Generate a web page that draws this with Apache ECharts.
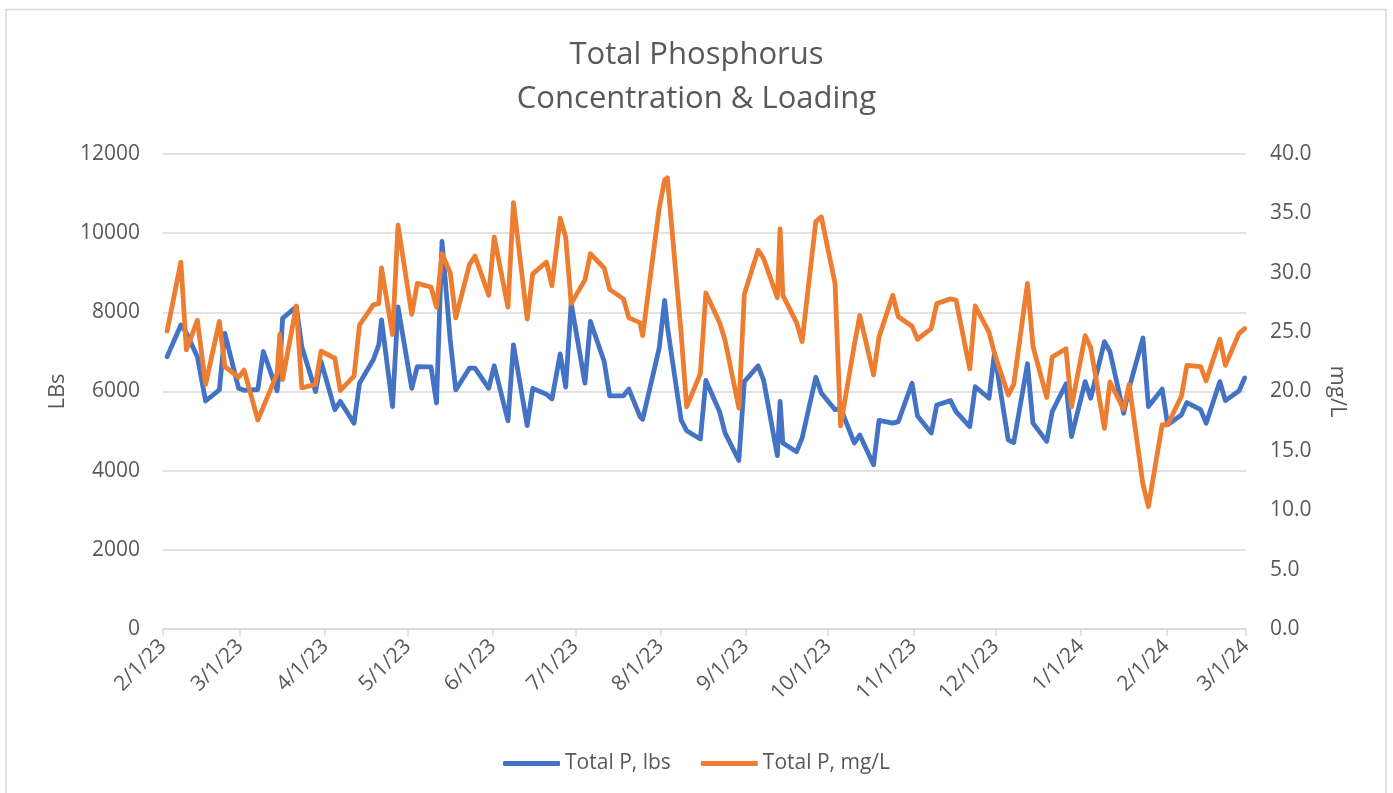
<!DOCTYPE html>
<html>
<head>
<meta charset="utf-8">
<title>Total Phosphorus Concentration &amp; Loading</title>
<script src="https://cdn.jsdelivr.net/npm/echarts@6/dist/echarts.min.js"></script>
<style>
  html, body { margin: 0; padding: 0; background: #fff; }
  #chart { width: 1393px; height: 793px; }
</style>
</head>
<body>
<div id="chart"></div>
<script>
// sample dates (Tue / Thu sampling)
const sampleDates = [
  '2023-02-02','2023-02-07','2023-02-09','2023-02-13','2023-02-16','2023-02-21','2023-02-23','2023-02-28',
  '2023-03-02','2023-03-07','2023-03-09','2023-03-14','2023-03-15','2023-03-16','2023-03-21','2023-03-23','2023-03-28','2023-03-30',
  '2023-04-04','2023-04-06','2023-04-11','2023-04-13','2023-04-18','2023-04-20','2023-04-21','2023-04-25','2023-04-27',
  '2023-05-02','2023-05-04','2023-05-09','2023-05-11','2023-05-13','2023-05-16','2023-05-18','2023-05-23','2023-05-25','2023-05-30',
  '2023-06-01','2023-06-06','2023-06-08','2023-06-13','2023-06-15','2023-06-20','2023-06-22','2023-06-25','2023-06-27','2023-06-29',
  '2023-07-04','2023-07-06','2023-07-11','2023-07-13','2023-07-18','2023-07-20','2023-07-24','2023-07-25','2023-07-31',
  '2023-08-02','2023-08-03','2023-08-08','2023-08-10','2023-08-15','2023-08-17','2023-08-22','2023-08-24','2023-08-29','2023-08-31',
  '2023-09-05','2023-09-07','2023-09-12','2023-09-13','2023-09-14','2023-09-19','2023-09-21','2023-09-26','2023-09-28',
  '2023-10-03','2023-10-05','2023-10-10','2023-10-12','2023-10-17','2023-10-19','2023-10-24','2023-10-26','2023-10-31',
  '2023-11-02','2023-11-07','2023-11-09','2023-11-14','2023-11-16','2023-11-21','2023-11-23','2023-11-28','2023-11-30',
  '2023-12-05','2023-12-07','2023-12-12','2023-12-14','2023-12-19','2023-12-21','2023-12-26','2023-12-28',
  '2024-01-02','2024-01-04','2024-01-09','2024-01-11','2024-01-16','2024-01-18','2024-01-23','2024-01-25','2024-01-30',
  '2024-02-01','2024-02-06','2024-02-08','2024-02-13','2024-02-15','2024-02-20','2024-02-22','2024-02-27','2024-02-29'
];

// Total P, lbs
const totalPLbs = [
  6880,7680,7480,6880,5760,6040,7470,6080,
  6030,6050,7010,6020,6600,7850,8140,7130,6000,6760,
  5540,5750,5200,6210,6800,7180,7810,5620,8140,
  6080,6630,6620,5710,9790,7300,6040,6590,6590,6080,
  6650,5260,7180,5140,6080,5930,5810,6950,6110,8230,
  6210,7770,6760,5890,5890,6060,5370,5300,7090,
  8300,7640,5280,5010,4800,6280,5490,4950,4260,6250,
  6650,6290,4380,5750,4700,4480,4820,6360,5960,
  5540,5580,4700,4900,4150,5270,5200,5240,6210,
  5380,4950,5660,5770,5490,5110,6120,5830,6970,
  4780,4710,6700,5200,4740,5490,6190,4860,
  6250,5830,7260,7010,5450,6090,7350,5620,6060,
  5160,5410,5720,5540,5200,6250,5770,6020,6340
];

// Total P, mg/L
const totalPMgL = [
  25.1,30.9,23.5,26.0,20.6,25.9,22.1,21.2,
  21.8,17.6,18.7,21.5,24.8,21.0,27.2,20.3,20.6,23.4,
  22.8,20.1,21.3,25.6,27.3,27.4,30.4,24.8,34.0,
  26.5,29.1,28.8,27.1,31.6,30.0,26.2,30.7,31.4,28.1,
  33.0,27.1,35.9,26.1,29.9,30.9,28.9,34.6,33.0,27.4,
  29.4,31.6,30.4,28.6,27.8,26.2,25.8,24.7,35.4,
  37.8,38.0,24.9,18.7,21.5,28.3,25.8,24.3,18.6,28.2,
  31.9,31.2,27.9,33.7,28.1,25.8,24.2,34.3,34.7,
  29.1,17.1,23.9,26.4,21.4,24.6,28.1,26.3,25.5,
  24.4,25.3,27.4,27.8,27.7,21.9,27.2,25.0,23.2,
  19.7,20.6,29.1,23.8,19.5,22.9,23.6,18.7,
  24.7,23.7,16.9,20.8,18.5,20.6,12.2,10.3,17.2,
  17.2,19.6,22.2,22.1,20.9,24.4,22.2,24.9,25.3
];

// x axis ticks (first of each month)
const tickDates = [
  '2023-02-01','2023-03-01','2023-04-01','2023-05-01','2023-06-01','2023-07-01','2023-08-01',
  '2023-09-01','2023-10-01','2023-11-01','2023-12-01','2024-01-01','2024-02-01','2024-03-01'
];
const tickLabels = [
  '2/1/23','3/1/23','4/1/23','5/1/23','6/1/23','7/1/23','8/1/23',
  '9/1/23','10/1/23','11/1/23','12/1/23','1/1/24','2/1/24','3/1/24'
];

// day number counted from the first tick date
function dayOf(s) {
  const p = s.split('-').map(Number);
  const b = tickDates[0].split('-').map(Number);
  return Math.round((Date.UTC(p[0], p[1] - 1, p[2]) - Date.UTC(b[0], b[1] - 1, b[2])) / 86400000);
}
const tickDays = tickDates.map(dayOf);
// points sit in the middle of their day, like the spreadsheet plot
const lbsData = sampleDates.map((d, i) => [dayOf(d) + 0.5, totalPLbs[i]]);
const mglData = sampleDates.map((d, i) => [dayOf(d) + 0.5, totalPMgL[i]]);

const FONT = '"Open Sans", "Noto Sans", sans-serif';
const TEXT = '#595959';
const GRID = '#D9D9D9';

const chart = echarts.init(document.getElementById('chart'));
const option = {
  animation: false,
  textStyle: { fontFamily: FONT },
  title: {
    text: 'Total Phosphorus\nConcentration & Loading',
    left: 'center',
    top: 33,
    padding: 0,
    textStyle: { fontFamily: FONT, fontSize: 31, fontWeight: 'normal', color: TEXT, lineHeight: 44, align: 'center' }
  },
  graphic: [{
    type: 'rect',
    silent: true,
    shape: { x: 6, y: 9.5, width: 1380, height: 800 },
    style: { fill: 'none', stroke: GRID, lineWidth: 1.5 }
  }],
  legend: {
    top: 748,
    left: 'center',
    icon: 'roundRect',
    itemWidth: 57,
    itemHeight: 5,
    itemGap: 30,
    textStyle: { fontFamily: FONT, fontSize: 21, color: TEXT },
    data: ['Total P, lbs', 'Total P, mg/L']
  },
  grid: { left: 163, right: 147, top: 154, bottom: 164 },
  xAxis: {
    type: 'value',
    min: tickDays[0],
    max: tickDays[tickDays.length - 1],
    axisLine: { show: true, onZero: false, lineStyle: { color: GRID, width: 1.5 } },
    axisTick: { show: true, length: 7, customValues: tickDays, lineStyle: { color: GRID, width: 1.5 } },
    splitLine: { show: false },
    axisLabel: {
      customValues: tickDays,
      rotate: 45,
      margin: 14,
      fontFamily: FONT,
      fontSize: 21,
      color: TEXT,
      formatter: function (val) {
        const i = tickDays.indexOf(val);
        return i >= 0 ? tickLabels[i] : '';
      }
    }
  },
  yAxis: [{
    type: 'value',
    min: 0,
    max: 12000,
    interval: 2000,
    name: 'LBs',
    nameLocation: 'middle',
    nameRotate: 90,
    nameGap: 84,
    nameTextStyle: { fontFamily: FONT, fontSize: 22, color: TEXT },
    axisLine: { show: false },
    axisTick: { show: false },
    axisLabel: {
      margin: 23,
      fontFamily: FONT,
      fontSize: 21,
      color: TEXT,
      formatter: function (v) { return String(v); }
    },
    splitLine: { lineStyle: { color: GRID, width: 1.5 } }
  }, {
    type: 'value',
    min: 0,
    max: 40,
    interval: 5,
    position: 'right',
    name: 'mg/L',
    nameLocation: 'middle',
    nameRotate: -90,
    nameGap: 80,
    nameTextStyle: { fontFamily: FONT, fontSize: 22, color: TEXT },
    axisLine: { show: false },
    axisTick: { show: false },
    axisLabel: {
      margin: 24,
      fontFamily: FONT,
      fontSize: 21,
      color: TEXT,
      formatter: function (v) { return v.toFixed(1); }
    },
    splitLine: { show: false }
  }],
  series: [{
    name: 'Total P, lbs',
    type: 'line',
    yAxisIndex: 0,
    data: lbsData,
    showSymbol: false,
    symbol: 'none',
    color: '#4472C4',
    lineStyle: { width: 4.8, color: '#4472C4', join: 'round', cap: 'round' }
  }, {
    name: 'Total P, mg/L',
    type: 'line',
    yAxisIndex: 1,
    data: mglData,
    showSymbol: false,
    symbol: 'none',
    color: '#ED7D31',
    lineStyle: { width: 4.8, color: '#ED7D31', join: 'round', cap: 'round' }
  }]
};
chart.setOption(option);
</script>
</body>
</html>
